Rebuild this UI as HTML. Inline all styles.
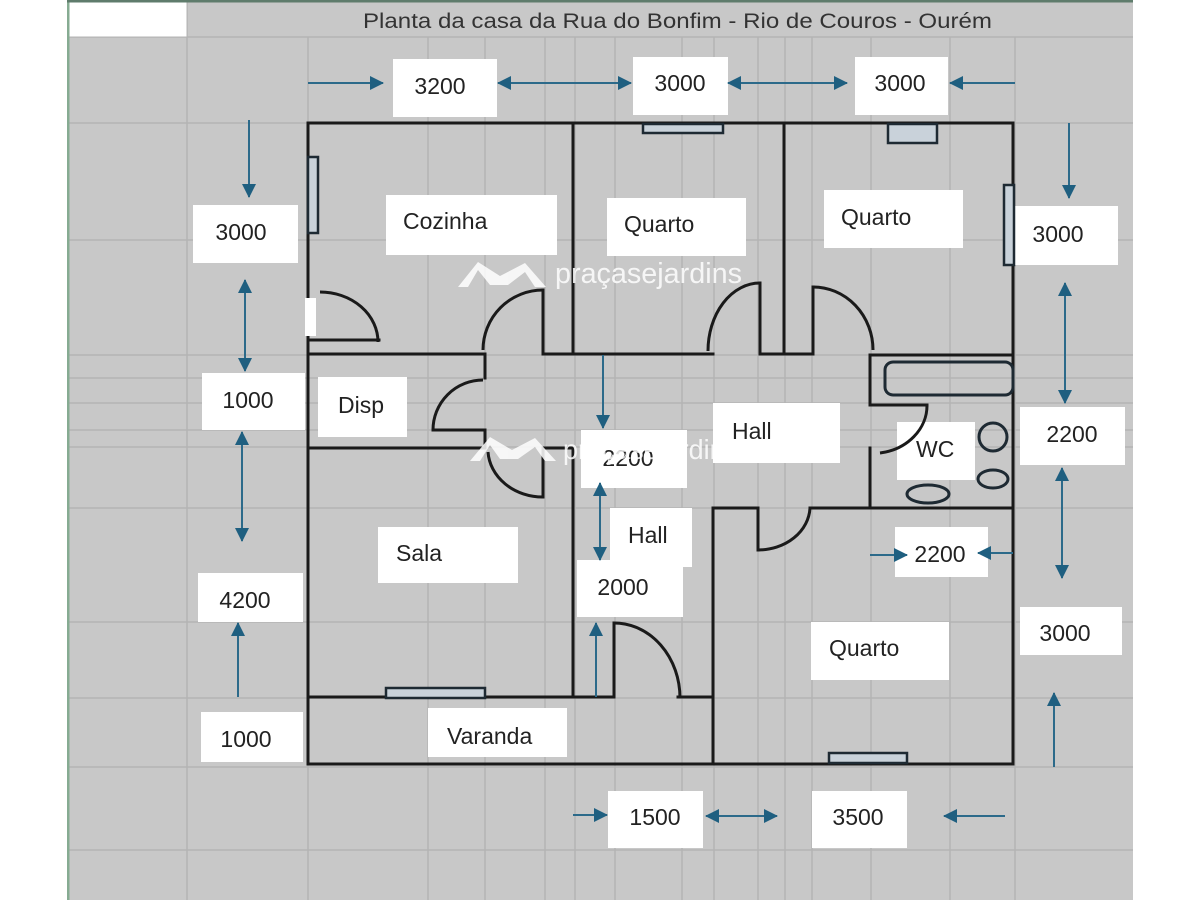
<!DOCTYPE html>
<html><head><meta charset="utf-8"><style>
html,body{margin:0;padding:0;background:#fff;}
svg{display:block;}
text{font-family:"Liberation Sans",Arial,sans-serif;}
</style></head><body>
<svg width="1200" height="900" viewBox="0 0 1200 900" xmlns="http://www.w3.org/2000/svg">
<defs>
<marker id="ah" viewBox="0 0 14 14" refX="13" refY="7" markerWidth="14" markerHeight="14" markerUnits="userSpaceOnUse" orient="auto-start-reverse">
<path d="M0,0 L14,7 L0,14 Z" fill="#1f5f80"/>
</marker>
</defs>
<rect x="0" y="0" width="1200" height="900" fill="#ffffff"/>
<rect x="67" y="0" width="1066" height="900" fill="#c8c8c8"/>
<!-- grid -->
<g stroke="#b4b4b4" stroke-width="1.5">
<line x1="187" y1="0" x2="187" y2="900"/><line x1="308" y1="37" x2="308" y2="900"/>
<line x1="428" y1="37" x2="428" y2="900"/><line x1="485" y1="37" x2="485" y2="900"/>
<line x1="545" y1="37" x2="545" y2="900"/><line x1="575" y1="37" x2="575" y2="900"/>
<line x1="615" y1="37" x2="615" y2="900"/><line x1="682" y1="37" x2="682" y2="900"/>
<line x1="714" y1="37" x2="714" y2="900"/><line x1="758" y1="37" x2="758" y2="900"/>
<line x1="785" y1="37" x2="785" y2="900"/><line x1="812" y1="37" x2="812" y2="900"/>
<line x1="871" y1="37" x2="871" y2="900"/><line x1="950" y1="37" x2="950" y2="900"/>
<line x1="1015" y1="37" x2="1015" y2="900"/>
<line x1="67" y1="37" x2="1133" y2="37"/><line x1="67" y1="123" x2="1133" y2="123"/>
<line x1="67" y1="240" x2="1133" y2="240"/><line x1="67" y1="355" x2="1133" y2="355"/>
<line x1="67" y1="378" x2="1133" y2="378"/><line x1="67" y1="403" x2="1133" y2="403"/>
<line x1="67" y1="430" x2="1133" y2="430"/><line x1="67" y1="447" x2="1133" y2="447"/>
<line x1="67" y1="508" x2="1133" y2="508"/><line x1="67" y1="622" x2="1133" y2="622"/>
<line x1="67" y1="698" x2="1133" y2="698"/><line x1="67" y1="767" x2="1133" y2="767"/>
<line x1="67" y1="850" x2="1133" y2="850"/>
</g>
<rect x="67" y="0" width="2.5" height="900" fill="#86ab92"/>
<rect x="67" y="0" width="1066" height="2.5" fill="#5f7c6c"/>
<rect x="69.5" y="2.5" width="117" height="34" fill="#ffffff"/>
<text x="363" y="28" font-size="21.5" fill="#333" textLength="629" lengthAdjust="spacingAndGlyphs">Planta da casa da Rua do Bonfim - Rio de Couros - Ourém</text>

<!-- label boxes -->
<g fill="#ffffff">
<rect x="393" y="59" width="104" height="58"/>
<rect x="633" y="57" width="95" height="58"/>
<rect x="855" y="57" width="93" height="58"/>
<rect x="386" y="195" width="171" height="60"/>
<rect x="607" y="198" width="139" height="58"/>
<rect x="824" y="190" width="139" height="58"/>
<rect x="193" y="205" width="105" height="58"/>
<rect x="1013" y="206" width="105" height="59"/>
<rect x="202" y="373" width="103" height="57"/>
<rect x="318" y="377" width="89" height="60"/>
<rect x="581" y="430" width="106" height="58"/>
<rect x="713" y="403" width="127" height="60"/>
<rect x="897" y="422" width="78" height="58"/>
<rect x="1020" y="407" width="105" height="58"/>
<rect x="895" y="527" width="93" height="50"/>
<rect x="610" y="508" width="82" height="59"/>
<rect x="378" y="527" width="140" height="56"/>
<rect x="577" y="560" width="106" height="57"/>
<rect x="198" y="573" width="105" height="49"/>
<rect x="811" y="622" width="138" height="58"/>
<rect x="1020" y="607" width="102" height="48"/>
<rect x="201" y="712" width="102" height="50"/>
<rect x="428" y="708" width="139" height="49"/>
<rect x="608" y="791" width="95" height="57"/>
<rect x="812" y="791" width="95" height="57"/>
</g>

<!-- walls -->
<g stroke="#1a1a1a" stroke-width="3" fill="none" stroke-linecap="square">
<path d="M308 123 H1013 V764 H308 Z"/>
<path d="M573 123 V354"/>
<path d="M784 123 V354"/>
<path d="M308 354 H485 V378"/>
<path d="M433 430 H485 V448"/>
<path d="M308 448 H485"/>
<path d="M543 448 H573"/>
<path d="M543 497 V448"/>
<path d="M543 290 V354 H713"/>
<path d="M308 340 H379"/>
<path d="M760 283 V354 H813 V287"/>
<path d="M870 355 H1013"/>
<path d="M870 355 V405 H927"/>
<path d="M870 448 V508"/>
<path d="M713 508 H758 V550"/>
<path d="M810 508 H1013"/>
<path d="M713 508 V764"/>
<path d="M573 448 V697"/>
<path d="M308 697 H614 V623"/>
<path d="M678 697 H713"/>
</g>
<g stroke="#1a1a1a" stroke-width="3" fill="none">
<path d="M483 380 A50 50 0 0 0 433 430"/>
<path d="M488 452 A55 48 0 0 0 543 497"/>
<path d="M483 350 A60 60 0 0 1 543 290"/>
<path d="M320 292 A58 50 0 0 1 378 342"/>
<path d="M708 351 A52 68 0 0 1 760 283"/>
<path d="M813 287 A60 63 0 0 1 873 350"/>
<path d="M927 405 A55 48 0 0 1 880 453"/>
<path d="M758 550 A52 44 0 0 0 810 508"/>
<path d="M614 623 A66 75 0 0 1 680 698"/>
</g>
<!-- door opening white -->
<rect x="305" y="298" width="11" height="38" fill="#ffffff"/>

<!-- windows -->
<g stroke="#1e2a33" stroke-width="2.5" fill="#c9d2da">
<rect x="308" y="157" width="10" height="76"/>
<rect x="643" y="124" width="80" height="9"/>
<rect x="888" y="124" width="49" height="19"/>
<rect x="1004" y="185" width="10" height="80"/>
<rect x="386" y="688" width="99" height="10"/>
<rect x="829" y="753" width="78" height="10"/>
</g>
<g stroke="#1e2a33" stroke-width="3" fill="none">
<rect x="885" y="362" width="128" height="33" rx="8"/>
<circle cx="993" cy="437" r="14"/>
<ellipse cx="993" cy="479" rx="15" ry="9"/>
<ellipse cx="928" cy="494" rx="21" ry="9"/>
</g>

<!-- arrows -->
<g stroke="#2c6a8a" stroke-width="2" fill="none">
<line x1="308" y1="83" x2="383" y2="83" marker-end="url(#ah)"/>
<line x1="498" y1="83" x2="631" y2="83" marker-start="url(#ah)" marker-end="url(#ah)"/>
<line x1="728" y1="83" x2="847" y2="83" marker-start="url(#ah)" marker-end="url(#ah)"/>
<line x1="1015" y1="83" x2="950" y2="83" marker-end="url(#ah)"/>
<line x1="249" y1="120" x2="249" y2="197" marker-end="url(#ah)"/>
<line x1="245" y1="280" x2="245" y2="371" marker-start="url(#ah)" marker-end="url(#ah)"/>
<line x1="242" y1="432" x2="242" y2="541" marker-start="url(#ah)" marker-end="url(#ah)"/>
<line x1="238" y1="697" x2="238" y2="623" marker-end="url(#ah)"/>
<line x1="1069" y1="123" x2="1069" y2="198" marker-end="url(#ah)"/>
<line x1="1065" y1="283" x2="1065" y2="403" marker-start="url(#ah)" marker-end="url(#ah)"/>
<line x1="1062" y1="468" x2="1062" y2="578" marker-start="url(#ah)" marker-end="url(#ah)"/>
<line x1="1054" y1="767" x2="1054" y2="693" marker-end="url(#ah)"/>
<line x1="603" y1="355" x2="603" y2="428" marker-end="url(#ah)"/>
<line x1="600" y1="483" x2="600" y2="560" marker-start="url(#ah)" marker-end="url(#ah)"/>
<line x1="596" y1="697" x2="596" y2="623" marker-end="url(#ah)"/>
<line x1="870" y1="555" x2="907" y2="555" marker-end="url(#ah)"/>
<line x1="1013" y1="553" x2="978" y2="553" marker-end="url(#ah)"/>
<line x1="573" y1="815" x2="607" y2="815" marker-end="url(#ah)"/>
<line x1="706" y1="816" x2="777" y2="816" marker-start="url(#ah)" marker-end="url(#ah)"/>
<line x1="1005" y1="816" x2="944" y2="816" marker-end="url(#ah)"/>
</g>

<!-- labels -->
<g font-size="23" fill="#222">
<text x="440" y="94" text-anchor="middle">3200</text>
<text x="680" y="91" text-anchor="middle">3000</text>
<text x="900" y="91" text-anchor="middle">3000</text>
<text x="403" y="229">Cozinha</text>
<text x="624" y="232">Quarto</text>
<text x="841" y="225">Quarto</text>
<text x="241" y="240" text-anchor="middle">3000</text>
<text x="1058" y="242" text-anchor="middle">3000</text>
<text x="248" y="408" text-anchor="middle">1000</text>
<text x="338" y="413">Disp</text>
<text x="628" y="466" text-anchor="middle">2200</text>
<text x="732" y="439">Hall</text>
<text x="916" y="457">WC</text>
<text x="1072" y="442" text-anchor="middle">2200</text>
<text x="940" y="562" text-anchor="middle">2200</text>
<text x="628" y="543">Hall</text>
<text x="396" y="561">Sala</text>
<text x="623" y="595" text-anchor="middle">2000</text>
<text x="245" y="608" text-anchor="middle">4200</text>
<text x="829" y="656">Quarto</text>
<text x="1065" y="641" text-anchor="middle">3000</text>
<text x="246" y="747" text-anchor="middle">1000</text>
<text x="447" y="744">Varanda</text>
<text x="655" y="825" text-anchor="middle">1500</text>
<text x="858" y="825" text-anchor="middle">3500</text>
</g>

<!-- watermarks -->
<g fill="#ffffff" opacity="0.85">
<polygon points="458,287 478,262 500,276 525,263 546,287 535,287 525,272 508,285 490,285 478,270 468,287"/>
<text x="555" y="283" font-size="29" textLength="187" lengthAdjust="spacingAndGlyphs">praçasejardins</text>
<polygon points="470,461 490,437 512,450 535,438 556,461 545,461 535,447 518,459 500,459 490,445 480,461"/>
<text x="563" y="459" font-size="28" textLength="175" lengthAdjust="spacingAndGlyphs">praçasejardins</text>
</g>
</svg>
</body></html>
